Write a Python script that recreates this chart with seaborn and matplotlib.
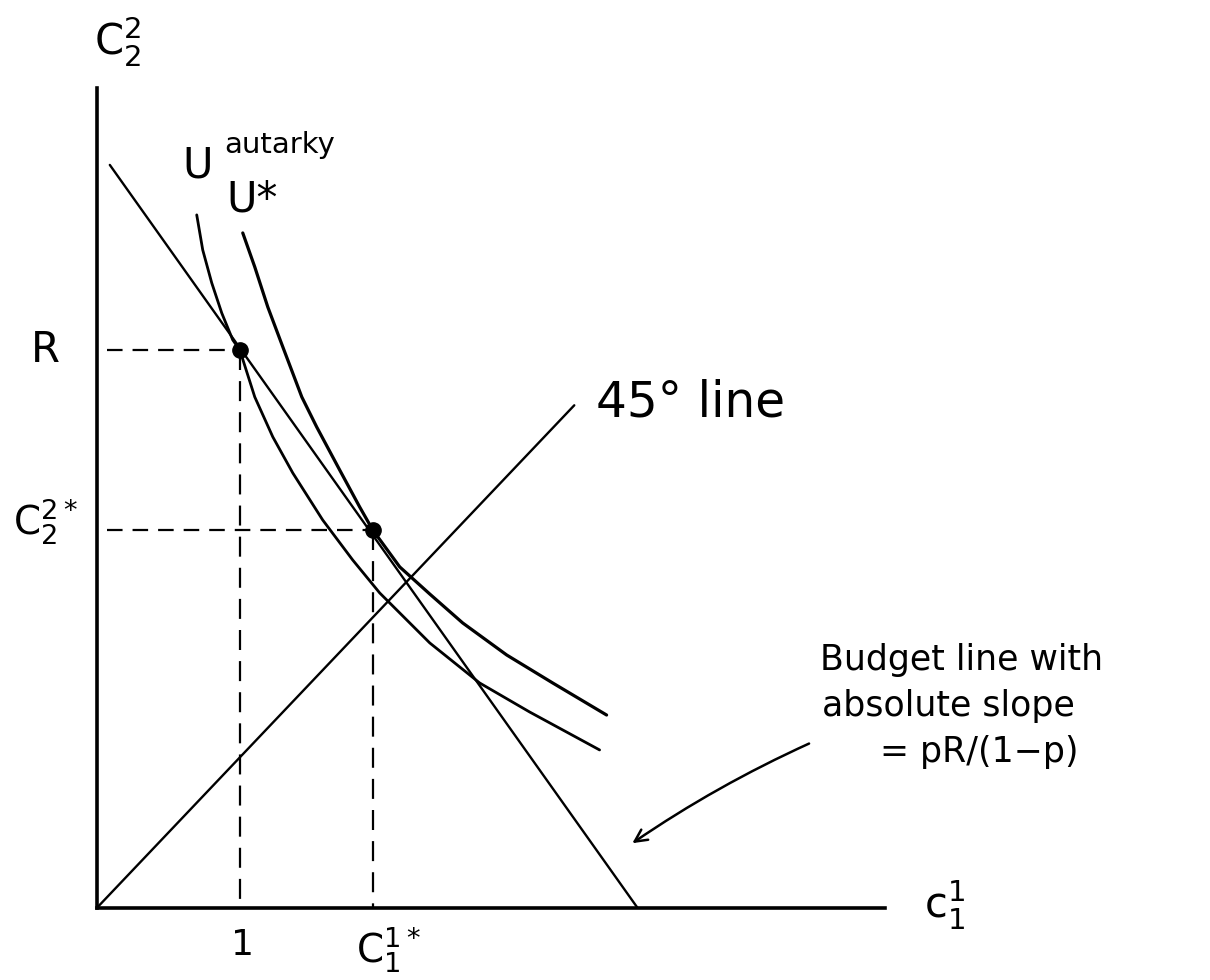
import numpy as np
import pandas as pd
import matplotlib
matplotlib.use("Agg")
import matplotlib.pyplot as plt
import seaborn as sns

# values (c1 on x, c2 on y)
R = 3.71
c1_star = 1.93
c2_star = 2.51

budget_x = [0.091, 3.783]
budget_y = [4.937, 0.0]

line45_x = [0.0, 3.34]
line45_y = [0.0, 3.34]

u_aut_x = [0.699, 0.741, 0.804, 0.874, 0.951, 1.000, 1.105, 1.231, 1.371, 1.580,
           1.790, 1.979, 2.329, 2.678, 3.028, 3.517]
u_aut_y = [4.605, 4.372, 4.153, 3.953, 3.774, 3.708, 3.395, 3.130, 2.890, 2.578,
           2.312, 2.093, 1.761, 1.495, 1.302, 1.050]

u_star_x = [1.021, 1.105, 1.196, 1.301, 1.434, 1.538, 1.699, 1.839, 1.930, 2.119,
            2.329, 2.559, 2.867, 3.189, 3.566]
u_star_y = [4.485, 4.259, 3.993, 3.728, 3.395, 3.196, 2.910, 2.664, 2.512, 2.266,
            2.086, 1.894, 1.681, 1.495, 1.282]

sns.set_style("white")
plt.rcParams["font.family"] = ["DejaVu Sans"]
plt.rcParams["mathtext.fontset"] = "dejavusans"

fig = plt.figure(figsize=(12.1, 9.8), dpi=100)
ax = fig.add_axes([0.080, 0.0735, 0.651, 0.837])
ax.set_xlim(0, 5.51)
ax.set_ylim(0, 5.45)

# budget line and 45 degree line
sns.lineplot(x=budget_x, y=budget_y, ax=ax, color="black", linewidth=1.7)
sns.lineplot(x=line45_x, y=line45_y, ax=ax, color="black", linewidth=1.7)

# indifference curves
aut = pd.DataFrame({"x": u_aut_x, "y": u_aut_y})
star = pd.DataFrame({"x": u_star_x, "y": u_star_y})
sns.lineplot(data=aut, x="x", y="y", sort=False, ax=ax, color="black", linewidth=2.0)
sns.lineplot(data=star, x="x", y="y", sort=False, ax=ax, color="black", linewidth=2.3)

# dashed guides
hdash = (0, (7, 4.5))
vdash = (0, (9, 5))
ax.plot([0.07, 1.0], [R, R], ls=hdash, color="black", lw=1.6)
ax.plot([1.0, 1.0], [R, 0], ls=vdash, color="black", lw=1.6)
ax.plot([0.07, c1_star], [c2_star, c2_star], ls=hdash, color="black", lw=1.6)
ax.plot([c1_star, c1_star], [c2_star, 0], ls=vdash, color="black", lw=1.6)

# equilibrium points
ax.plot([1.0, c1_star], [R, c2_star], "o", color="black", markersize=11)

# arrow to the budget line
ax.annotate("", xy=(3.73, 0.42), xytext=(5.0, 1.10),
            arrowprops=dict(arrowstyle="->", color="black", lw=1.8,
                            connectionstyle="arc3,rad=0.045", mutation_scale=22))

sns.despine(ax=ax)
for s in ["left", "bottom"]:
    ax.spines[s].set_linewidth(2.6)
    ax.spines[s].set_color("black")
ax.set_xticks([])
ax.set_yticks([])
ax.set_xlabel("")
ax.set_ylabel("")

W, H = 1210, 980
def ft(px, py, s, size=28, ha="center", va="center", **kw):
    fig.text(px / W, 1 - py / H, s, fontsize=size, ha=ha, va=va, color="black", **kw)

ft(118, 42, r"$\mathrm{C}_2^2$", 30)
ft(45, 350, "R", 30)
ft(45, 522, r"$\mathrm{C}_2^{2*}$", 28)
ft(243, 945, "1", 26)
ft(388, 950, r"$\mathrm{C}_1^{1*}$", 28)
ft(945, 905, r"$\mathrm{c}_1^1$", 30)
ft(198, 166, "U", 30)
ft(280, 145, "autarky", 21)
ft(252, 200, "U*", 30)
ft(596, 402, "45° line", 35, ha="left")
ft(820, 660, "Budget line with", 25, ha="left")
ft(822, 706, "absolute slope", 25, ha="left")
ft(880, 752, "= pR/(1−p)", 25, ha="left")

fig.savefig("out.png", dpi=100)
